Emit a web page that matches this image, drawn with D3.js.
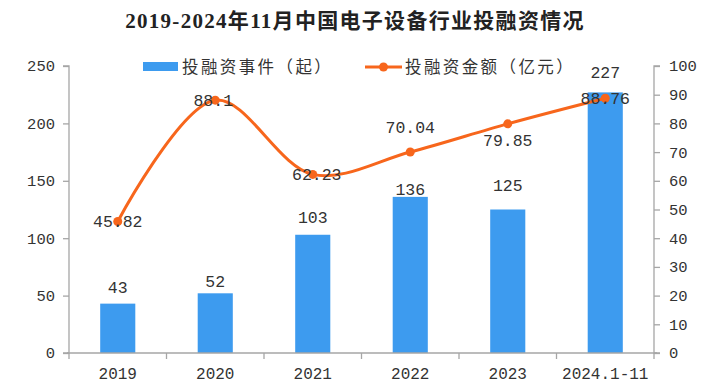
<!DOCTYPE html>
<html><head><meta charset="utf-8">
<script src="https://cdn.jsdelivr.net/npm/d3@7"></script>
<style>
html,body{margin:0;padding:0;background:#fff;}
svg{display:block;}
</style></head>
<body><svg id="c" width="708" height="388"></svg>
<script>
const categories = ["2019","2020","2021","2022","2023","2024.1-11"];
const eventCounts = [43,52,103,136,125,227];
const amounts = [45.82,88.1,62.23,70.04,79.85,88.76];
const amountLabels = ["45.82","88.1","62.23","70.04","79.85","88.76"];
const leftTicks = [0,50,100,150,200,250];
const rightTicks = [0,10,20,30,40,50,60,70,80,90,100];
const titleText = "2019-2024年11月中国电子设备行业投融资情况";
const seriesNames = ["投融资事件（起）","投融资金额（亿元）"];

const W=708,H=388;
const m={left:69,right:54,top:66,bottom:35};
const x0=m.left, x1=W-m.right, y0=H-m.bottom, y1=m.top;
const barColor="#3d9bef", lineColor="#f7661c", axisColor="#a6a6a6", textColor="#333";
const numFont="'Liberation Mono', 'DejaVu Sans Mono', monospace";
const svg=d3.select("#c");

const x=d3.scaleBand().domain(categories).range([x0,x1]).padding(0);
const yL=d3.scaleLinear().domain([0,250]).range([y0,y1]);
const yR=d3.scaleLinear().domain([0,100]).range([y0,y1]);

// title
svg.append("text").attr("x",355).attr("y",28).attr("text-anchor","middle")
  .attr("font-family","'Liberation Serif','Noto Sans CJK SC',serif").attr("font-weight","bold")
  .attr("font-size",21).attr("letter-spacing",1.3).attr("fill","#222").text(titleText);

// bars
const bw=x.bandwidth()*0.36;
svg.selectAll("rect.bar").data(eventCounts).join("rect").attr("class","bar")
  .attr("x",(d,i)=>x(categories[i])+x.bandwidth()/2-bw/2)
  .attr("y",d=>yL(d)).attr("width",bw).attr("height",d=>y0-yL(d))
  .attr("fill",barColor);

// axes
const axL=svg.append("g").attr("transform",`translate(${x0},0)`)
  .call(d3.axisLeft(yL).tickValues(leftTicks).tickSize(6).tickPadding(8));
const axR=svg.append("g").attr("transform",`translate(${x1},0)`)
  .call(d3.axisRight(yR).tickValues(rightTicks).tickSize(6).tickPadding(9));
const axB=svg.append("g").attr("transform",`translate(0,${y0})`)
  .call(d3.axisBottom(x).tickSize(0).tickPadding(15));
// band boundary ticks on x axis
const bounds=categories.map(c=>x(c)).concat([x1]);
svg.append("g").selectAll("line").data(bounds).join("line")
  .attr("x1",d=>d).attr("x2",d=>d).attr("y1",y0).attr("y2",y0+6)
  .attr("stroke",axisColor).attr("stroke-width",1.3);
[axL,axR,axB].forEach(g=>{
  g.selectAll(".domain,.tick line").attr("stroke",axisColor).attr("stroke-width",1.3);
  g.selectAll("text").attr("font-family",numFont).attr("font-size",15.5).attr("fill",textColor);
});
axB.selectAll("text").attr("font-size",16);
axR.select(".domain").attr("d",`M6,${y1}H0V${y0}H6`);
axL.select(".domain").attr("d",`M-6,${y1}H0V${y0}H-6`);
axB.select(".domain").attr("d",`M${x0-2},0H${x1+3}`);

// line
const cx=i=>x(categories[i])+x.bandwidth()/2;
const line=d3.line().x((d,i)=>cx(i)).y(d=>yR(d)).curve(d3.curveCatmullRom.alpha(0.5));
svg.append("path").attr("d",line(amounts)).attr("fill","none")
  .attr("stroke",lineColor).attr("stroke-width",3);
svg.selectAll("circle.pt").data(amounts).join("circle").attr("class","pt")
  .attr("cx",(d,i)=>cx(i)).attr("cy",d=>yR(d)).attr("r",4.5).attr("fill",lineColor);

// bar labels
const barLabelGap=[11,6,12,2,19,14];
svg.selectAll("text.bl").data(eventCounts).join("text").attr("class","bl")
  .attr("x",(d,i)=>cx(i)).attr("y",(d,i)=>yL(d)-barLabelGap[i])
  .attr("text-anchor","middle").attr("font-family",numFont).attr("font-size",16.5)
  .attr("fill",textColor).text(d=>d);

// line labels
const lineLabelDy=[0,0,0,-25,16,0];
const lineLabelDx=[0,-2,4,0,0,0];
svg.selectAll("text.ll").data(amounts).join("text").attr("class","ll")
  .attr("x",(d,i)=>cx(i)+lineLabelDx[i]).attr("y",(d,i)=>yR(d)+lineLabelDy[i])
  .attr("dy","0.35em").attr("text-anchor","middle").attr("font-family",numFont)
  .attr("font-size",16.5).attr("fill",textColor).text((d,i)=>amountLabels[i]);

// legend
const lg=svg.append("g");
lg.append("rect").attr("x",143).attr("y",62).attr("width",35).attr("height",9).attr("fill",barColor);
lg.append("text").attr("x",182).attr("y",67).attr("dy","0.35em")
  .attr("font-family","'Noto Sans CJK SC',sans-serif").attr("font-size",16.5)
  .attr("letter-spacing",2.4).attr("fill",textColor).text(seriesNames[0]);
lg.append("line").attr("x1",365).attr("x2",402).attr("y1",67).attr("y2",67)
  .attr("stroke",lineColor).attr("stroke-width",3);
lg.append("circle").attr("cx",383.5).attr("cy",67).attr("r",4.5).attr("fill",lineColor);
lg.append("text").attr("x",405).attr("y",67).attr("dy","0.35em")
  .attr("font-family","'Noto Sans CJK SC',sans-serif").attr("font-size",16.5)
  .attr("letter-spacing",2.4).attr("fill",textColor).text(seriesNames[1]);
</script></body></html>
